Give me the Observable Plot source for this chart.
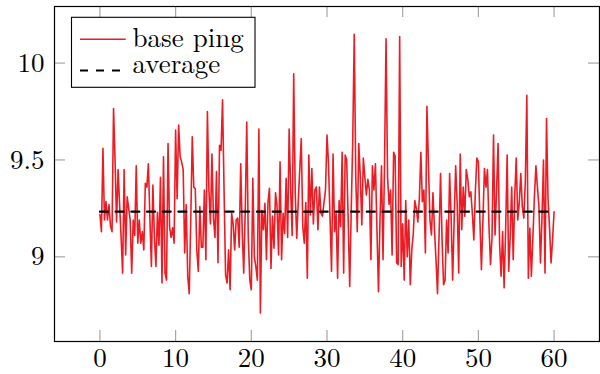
<!DOCTYPE html>
<html><head><meta charset="utf-8">
<script src="https://cdn.jsdelivr.net/npm/d3@7"></script>
<script src="https://cdn.jsdelivr.net/npm/@observablehq/plot@0.6"></script>
<style>
html,body{margin:0;padding:0;background:#fff;}
#wrap{position:relative;width:600px;height:374px;overflow:hidden;}
#wrap svg.lg{position:absolute;left:70px;top:16px;}
#wrap text{font-family:'Latin Modern Roman','Liberation Serif',serif !important;}
</style></head><body><div id="wrap"></div>
<script>
// base ping series, sampled every 0.2 from 0 to 60, split in segments
const pingSeg1 = [9.22,9.13,9.56,9.19,9.285,9.19,9.27,9.156,9.13,9.765,9.5,9.18,9.45,9.27,9.1,8.916,9.45,9.01,9.31,9.25,9.19,8.916,9.19,9.11,9.47,9.07,9.19,9.07,9.13,9.036,9.38,9.36,9.48,9.2,8.95,9.37,9.1,8.95,9.23,9.06,9.41,8.865];
const pingSeg2 = [9.516,8.916,8.88,9.585,9.156,9.1,9.15,9.07,9.654,9.30,9.68,9.516,9.49,9.45,9.02,9.27,8.9,8.81,9.19,9.62,9.36,9.35,9.036,8.925,9.26,9.05,9.05,9.345,8.985,9.75,9.345,9.17,9.53,9.2,9.1,9.44,8.97,9.576,9.55,9.81,9.345,8.907,8.865,9.036,8.83,9.225,9.17,9.036,9.19,9.2,9.05,9.48,9.13,8.916];
const pingSeg3 = [9.24,9.696,9.10,8.88,8.83,9.405,9.0,8.95,8.88,9.66,8.71,9.24,9.14,9.276,8.985,9.28,9.354,8.94,9.21,9.045,9.33,9.26,9.01,9.49,8.985,9.225,9.12,9.405,9.10,9.66,9.345,9.11,9.945,9.33,9.096,9.28,9.45,9.61,9.156,9.07,9.28,8.89,9.525,9.216,9.456,9.17,9.345,9.36,9.14,9.36];
const pingSeg4 = [9.225,9.21,9.28,9.345,9.628,9.48,9.2,8.925,9.53,9.13,9.225,8.89,9.29,9.156,9.54,8.916,9.525,9.50,9.19,8.847,9.24,9.6,10.148,9.413,9.13,9.585,9.413,9.165,9.51,9.413,9.32,9.40,9.345,8.985,9.47,9.345,9.48,9.14,8.82,9.19,9.47,8.985,9.48,10.125,9.413,9.27,9.345,9.01,9.54,9.52];
const pingSeg5 = [8.97,8.96,10.137,8.95,9.17,8.88,9.29,9.0,9.19,8.856,9.036,9.12,9.29,9.25,9.18,9.3,9.54,9.285,9.345,9.02,9.777,9.48,9.19,9.113,9.33,9.14,8.985,8.81,9.1,9.43,9.09,8.856,8.88,9.19,9.02,9.43,9.2,8.88,9.19,9.47,9.27,8.916,9.53,9.14,9.36,9.21,9.45,9.4,9.31];
const pingSeg6 = [9.336,9.225,9.087,9.34,9.51,9.49,9.19,8.933,9.19,9.456,9.36,9.45,9.156,8.96,9.1,9.628,9.113,9.34,9.585,9.07,8.9,9.13,8.84,9.14,9.525,8.925,9.1,9.36,8.985,9.31,9.51,9.19,9.28,9.43,9.26,9.2,9.39,9.834,8.89,9.148,8.9,9.1,9.31,9.47,9.36,9.26,8.968,9.2,9.50,8.916,9.714,9.3,9.148,8.968,9.09,9.233];
const xStep = 0.2;
const averageValue = 9.233;
const xTicks = [0, 10, 20, 30, 40, 50, 60];
const yTicks = [9, 9.5, 10];
const seriesNames = ["base ping", "average"];
const xDomain = [-6, 66];
const yDomain = [8.563, 10.292];

const ping = [...pingSeg1, ...pingSeg2, ...pingSeg3, ...pingSeg4, ...pingSeg5, ...pingSeg6];
const data = ping.map((v, i) => ({x: +(i * xStep).toFixed(1), y: v}));
const avgData = [{x: data[0].x, y: averageValue}, {x: data[data.length - 1].x, y: averageValue}];

const W = 600, H = 374, mL = 54, mR = 1, mT = 6, mB = 33;
const innerW = W - mL - mR, innerH = H - mT - mB;
const font = "'Latin Modern Roman', 'Liberation Serif', serif";
const fs = 27;
const red = "#ec1c24";
const tickColor = "#a6a6a6";
const tickLen = 11;

const chart = Plot.plot({
  width: W, height: H,
  marginLeft: mL, marginRight: mR, marginTop: mT, marginBottom: mB,
  style: {fontFamily: font, fontSize: fs + "px", background: "white", color: "black"},
  x: {domain: xDomain, label: null},
  y: {domain: yDomain, label: null},
  marks: [
    Plot.ruleX(xTicks, {stroke: tickColor, strokeWidth: 1.2, insetTop: innerH - tickLen}),
    Plot.ruleX(xTicks, {stroke: tickColor, strokeWidth: 1.2, insetBottom: innerH - tickLen}),
    Plot.ruleY(yTicks, {stroke: tickColor, strokeWidth: 1.2, insetRight: innerW - tickLen}),
    Plot.ruleY(yTicks, {stroke: tickColor, strokeWidth: 1.2, insetLeft: innerW - tickLen}),
    Plot.line(data, {x: "x", y: "y", stroke: red, strokeWidth: 1.6}),
    Plot.line(avgData, {x: "x", y: "y", stroke: "black", strokeWidth: 2.2, strokeDasharray: "8,7.7"}),
    Plot.frame({stroke: "black", strokeWidth: 1.2}),
    Plot.axisX(xTicks, {tickSize: 0, tickPadding: 6, fontSize: fs, label: null}),
    Plot.axisY(yTicks, {tickSize: 0, tickPadding: 10, fontSize: fs, label: null, tickFormat: d => String(d)})
  ]
});
const wrap = document.getElementById("wrap");
wrap.appendChild(chart);

// legend overlay (inside the plot frame, top-left)
const lg = d3.create("svg").attr("class", "lg").attr("width", 188).attr("height", 74)
  .style("font-size", fs + "px");
lg.append("rect").attr("x", 1.5).attr("y", 1.3).attr("width", 183.5).attr("height", 70)
  .attr("fill", "white").attr("stroke", "black").attr("stroke-width", 1.1);
lg.append("line").attr("x1", 10).attr("x2", 55.7).attr("y1", 23.3).attr("y2", 23.3)
  .attr("stroke", red).attr("stroke-width", 1.6);
lg.append("text").attr("x", 62.5).attr("y", 30.7).text(seriesNames[0]);
lg.append("line").attr("x1", 10).attr("x2", 50).attr("y1", 54.5).attr("y2", 54.5)
  .attr("stroke", "black").attr("stroke-width", 2.2).attr("stroke-dasharray", "8,8");
lg.append("text").attr("x", 62.5).attr("y", 57).text(seriesNames[1]);
wrap.appendChild(lg.node());
</script></body></html>
